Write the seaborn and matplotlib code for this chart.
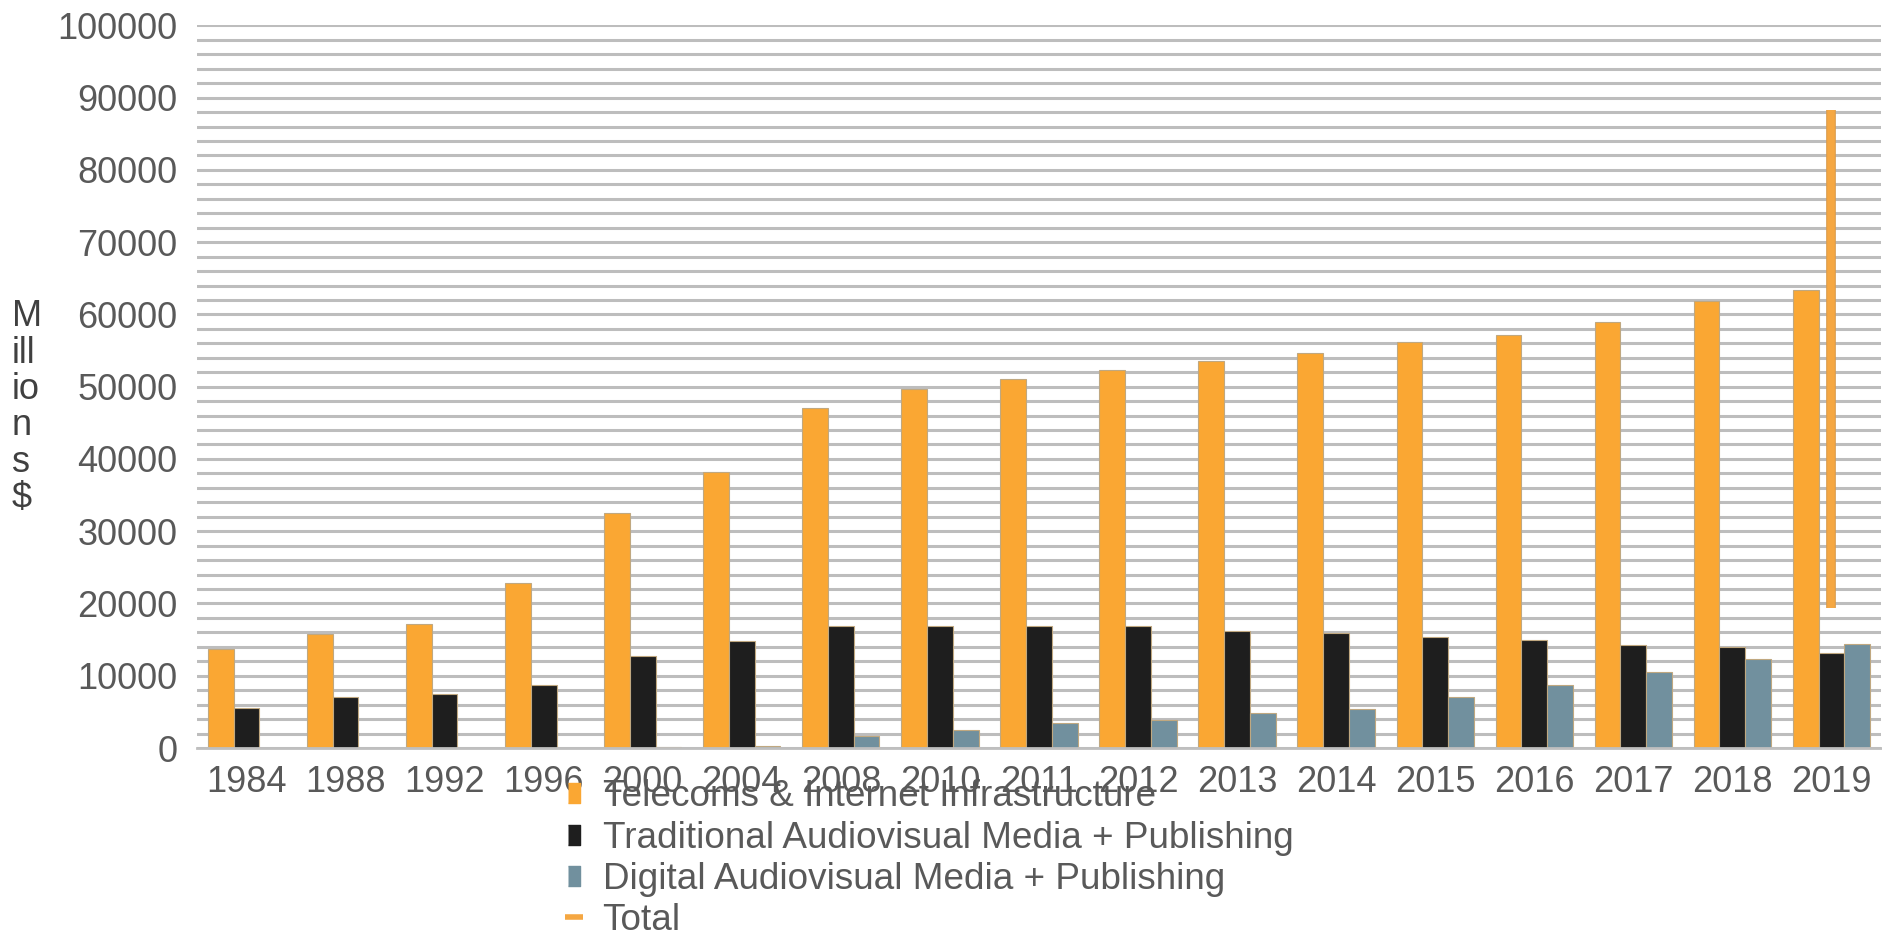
import matplotlib
matplotlib.use("Agg")
import matplotlib.pyplot as plt
import matplotlib.patheffects as pe
from matplotlib.lines import Line2D
from matplotlib.ticker import MultipleLocator, FixedLocator
import pandas as pd
import seaborn as sns

# ---- data (millions of US$) ----
years = ["1984", "1988", "1992", "1996", "2000", "2004", "2008", "2010", "2011",
         "2012", "2013", "2014", "2015", "2016", "2017", "2018", "2019"]
telecoms = [13700, 15800, 17100, 22800, 32500, 38200, 47100, 49700, 51000,
            52300, 53500, 54600, 56200, 57100, 58900, 61800, 63400]
traditional = [5500, 7000, 7500, 8700, 12700, 14800, 16950, 16950, 16950,
               16950, 16150, 15900, 15350, 14900, 14300, 13950, 13150]
digital = [0, 0, 0, 0, 200, 250, 1600, 2500, 3450,
           3900, 4850, 5400, 7000, 8700, 10500, 12250, 14400]
total_years = ["2019", "2019"]
total_values = [19400, 88300]

series_names = ["Telecoms & Internet Infrastructure",
                "Traditional Audiovisual Media + Publishing",
                "Digital Audiovisual Media + Publishing"]
total_name = "Total"

colors = ["#FAA733", "#1E1E1E", "#71909E"]
total_color = "#F5A742"
text_color = "#595959"

df = pd.concat([
    pd.DataFrame({"year": years, "value": vals, "series": name})
    for name, vals in zip(series_names, [telecoms, traditional, digital])
], ignore_index=True)

sns.set_theme(style="white")
plt.rcParams["font.family"] = ["Liberation Sans", "DejaVu Sans"]

fig = plt.figure(figsize=(18.83, 9.39), dpi=100)
ax = fig.add_axes([0.1046, 0.2034, 0.8943, 0.7696])

sns.barplot(data=df, x="year", y="value", hue="series", order=years,
            hue_order=series_names, palette=colors, saturation=1, width=0.78,
            gap=0, edgecolor="#C0A880", linewidth=0.8, legend=False, ax=ax)

# total series
tx = [years.index(y) for y in total_years]
ax.plot(tx, total_values, color=total_color, lw=5.5, solid_capstyle="butt",
        path_effects=[pe.Stroke(linewidth=7, foreground="#D99B4C"), pe.Normal()],
        zorder=4)

# axes styling
ax.set_xlim(-0.5, len(years) - 0.5)
ax.set_ylim(0, 100000)
ax.yaxis.set_major_locator(MultipleLocator(10000))
ax.yaxis.set_minor_locator(MultipleLocator(2000))
ax.grid(False)
ax.grid(axis="y", which="both", color="#BDBDBD", lw=2.2)
ax.set_axisbelow(True)
for side in ["left", "right", "top"]:
    ax.spines[side].set_visible(False)
ax.spines["bottom"].set_color("#BFBFBF")
ax.spines["bottom"].set_linewidth(2)

ax.xaxis.set_minor_locator(FixedLocator([i - 0.5 for i in range(len(years) + 1)]))
ax.tick_params(axis="x", which="major", length=0, pad=12, labelsize=26,
               labelcolor=text_color)
ax.tick_params(axis="x", which="minor", length=7, width=1.5, color="#BFBFBF",
               direction="out")
ax.tick_params(axis="y", which="both", length=0, pad=14, labelsize=26,
               labelcolor=text_color)
ax.set_xlabel("")
ax.set_ylabel("")

# stacked axis title
fig.text(0.0064, 0.566, "M\nill\nio\nn\ns\n$", ha="left", va="center",
         fontsize=26, color="#404040", linespacing=1.05)

# legend below the axis
handles = [Line2D([], [], marker=[(-0.28, -0.5), (0.28, -0.5), (0.28, 0.5), (-0.28, 0.5)],
                  linestyle="none", markersize=15, markerfacecolor=c,
                  markeredgecolor=c) for c in colors]
handles.append(Line2D([], [], color=total_color, lw=4, solid_capstyle="butt"))
leg = fig.legend(handles, series_names + [total_name], loc="upper left",
                 bbox_to_anchor=(0.300, 0.170), frameon=False, fontsize=26.6,
                 handlelength=0.5, handletextpad=0.52, labelspacing=0.17,
                 borderpad=0, borderaxespad=0)
for t in leg.get_texts():
    t.set_color(text_color)

fig.savefig("out.png", dpi=100)
